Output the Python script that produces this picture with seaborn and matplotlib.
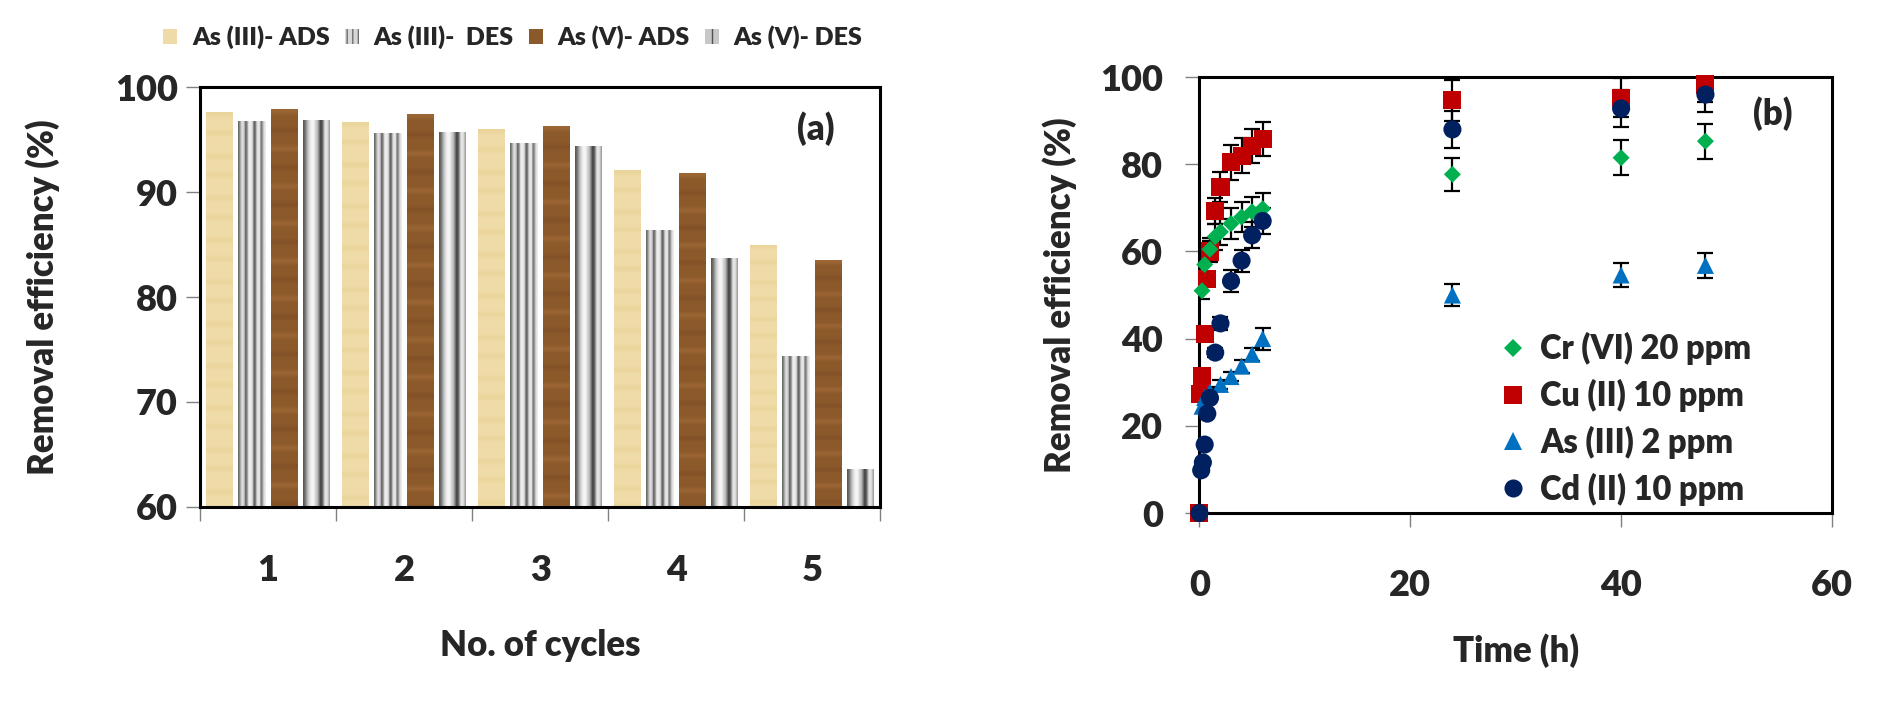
import numpy as np
import pandas as pd
import matplotlib
matplotlib.use("Agg")
import matplotlib.pyplot as plt
import seaborn as sns
from matplotlib.patches import Patch
from matplotlib.lines import Line2D

# ---------------- data: panel (a) ----------------
cycles = ["1", "2", "3", "4", "5"]
series_a = ["As (III)- ADS", "As (III)-  DES", "As (V)- ADS", "As (V)- DES"]
as3_ads = [97.6, 96.7, 96.0, 92.1, 85.0]
as3_des = [96.8, 95.6, 94.7, 86.4, 74.4]
as5_ads = [97.9, 97.4, 96.3, 91.8, 83.5]
as5_des = [96.9, 95.7, 94.4, 83.7, 63.6]

# ---------------- data: panel (b) ----------------
cr_t = [0.25, 0.5, 1, 1.5, 2, 3, 4, 5, 6, 24, 40, 48]
cr_y = [51.0, 57.0, 60.5, 63.4, 64.5, 66.4, 67.9, 69.1, 69.8, 77.7, 81.5, 85.3]
cr_e = [2.0, 2.0, 2.5, 3.0, 3.0, 3.5, 3.5, 3.5, 3.5, 3.8, 4.0, 4.0]

cu_t = [0, 0.08, 0.25, 0.5, 0.75, 1, 1.5, 2, 3, 4, 5, 6, 24, 40, 48]
cu_y = [0.0, 27.4, 31.4, 41.0, 53.7, 60.0, 69.3, 74.8, 80.5, 82.0, 84.2, 85.8, 94.7, 95.3, 98.3]
cu_e = [0, 0, 0, 0, 0, 2.5, 3.0, 3.5, 4.0, 4.0, 4.0, 4.0, 4.7, 4.5, 4.0]

as_t = [0.25, 0.5, 1, 2, 3, 4, 5, 6, 24, 40, 48]
as_y = [24.5, 26.5, 27.8, 29.5, 31.3, 33.7, 36.4, 40.0, 50.0, 54.6, 56.8]
as_e = [0.5, 1.0, 1.0, 1.0, 1.0, 1.5, 1.5, 2.5, 2.6, 2.8, 2.8]

cd_t = [0, 0.17, 0.33, 0.5, 0.75, 1, 1.5, 2, 3, 4, 5, 6, 24, 40, 48]
cd_y = [0.0, 9.8, 11.6, 15.7, 22.8, 26.4, 36.8, 43.5, 53.2, 57.9, 63.7, 67.0, 88.0, 92.8, 96.0]
cd_e = [0, 0, 0, 0, 0, 0, 1.0, 1.5, 2.5, 2.5, 3.0, 3.0, 4.2, 4.3, 4.0]

labels_b = ["Cr (VI) 20 ppm", "Cu (II) 10 ppm", "As (III) 2 ppm", "Cd (II) 10 ppm"]

# ---------------- style ----------------
sns.set_style("white")
plt.rcParams["font.family"] = ["Lato", "DejaVu Sans"]
plt.rcParams["font.weight"] = "heavy"
plt.rcParams["axes.labelweight"] = "heavy"
plt.rcParams["hatch.linewidth"] = 1.0
W = "heavy"

fig = plt.figure(figsize=(18.77, 7.14), dpi=100)
axa = fig.add_axes([0.1066, 0.29, 0.3623, 0.588])
axb = fig.add_axes([0.639, 0.2815, 0.337, 0.6105])

# ---------------- panel (a) ----------------
dfa = pd.DataFrame({
    "cycle": cycles * 4,
    "series": [s for s in series_a for _ in cycles],
    "value": as3_ads + as3_des + as5_ads + as5_des,
})
base_cols = ["#EFDBA8", "#B0B0B0", "#8B5A2B", "#A0A0A0"]
sns.barplot(data=dfa, x="cycle", y="value", hue="series", order=cycles,
            hue_order=series_a, palette=base_cols, width=0.95, saturation=1,
            errorbar=None, legend=False, ax=axa)

bw = 0.2
for cont in axa.containers:
    for p in cont.patches:
        cx = p.get_x() + p.get_width() / 2
        p.set_x(cx - bw / 2)
        p.set_width(bw)
        p.set_edgecolor("none")


def overlay(ax, patch, img):
    x0, y0 = patch.get_x(), patch.get_y()
    w, h = patch.get_width(), patch.get_height()
    im = ax.imshow(img, extent=[x0, x0 + w, y0, y0 + h], aspect="auto",
                   interpolation="bilinear", zorder=patch.get_zorder() + 0.01)
    # clip to the bar while keeping the axes clip box
    im.set_clip_path(patch.get_path(), patch.get_transform())


# texture images (styling only)
p3 = [0.42, 0.6, 0.82, 0.88, 0.75, 0.38, 0.55, 0.86, 0.96, 0.9, 0.8, 0.35,
      0.5, 0.82, 0.92, 0.86, 0.45, 0.6, 0.86, 0.92]
p5 = [0.35, 0.45, 0.6, 0.75, 0.85, 0.93, 0.97, 0.95, 0.88, 0.8, 0.7, 0.5,
      0.3, 0.3, 0.55, 0.85, 0.92, 0.85, 0.7, 0.55]
img3 = np.tile(np.array(p3)[None, :, None], (1, 1, 3))
img5 = np.tile(np.array(p5)[None, :, None], (1, 1, 3))

pap_a = np.array([0.94, 0.86, 0.66])
pap_b = np.array([0.92, 0.835, 0.61])
pap_rows = np.array([pap_b if (i % 9 in (0, 4)) else pap_a for i in range(220)])
img_pap = pap_rows[:, None, :]
wood_a = np.array([0.55, 0.35, 0.17])
wood_b = np.array([0.61, 0.40, 0.20])
wood_c = np.array([0.51, 0.32, 0.15])
wood_rows = np.array([wood_b if i % 8 == 0 else (wood_c if i % 8 == 4 else wood_a)
                      for i in range(220)])
img_wood = wood_rows[:, None, :]

imgs = [img_pap, img3, img_wood, img5]
for cont, im in zip(axa.containers, imgs):
    for p in cont.patches:
        overlay(axa, p, im)

axa.set_xlim(-0.5, 4.5)
axa.set_ylim(60, 100)
axa.set_aspect("auto")
axa.set_yticks([60, 70, 80, 90, 100])
axa.set_xticks(range(5))
axa.set_xticklabels(cycles)
axa.set_xticks(np.arange(-0.5, 5.0, 1.0), minor=True)
axa.tick_params(axis="x", which="major", length=0, pad=34, labelsize=26)
axa.tick_params(axis="x", which="minor", length=10, width=1, color="#808080",
                direction="out", bottom=True)
axa.tick_params(axis="y", length=10, width=1, color="#808080", direction="out",
                left=True, pad=6, labelsize=26)
for s in axa.spines.values():
    s.set_visible(True)
    s.set_color("black")
    s.set_linewidth(2.2)
axa.set_xlabel("No. of cycles", fontsize=25)
axa.set_ylabel("Removal efficiency (%)", fontsize=25)
axa.xaxis.set_label_coords(0.5, -0.29)
axa.yaxis.set_label_coords(-0.206, 0.5)
axa.text(0.905, 0.90, "(a)", transform=axa.transAxes, ha="center",
         va="center", fontsize=25, fontweight=W)

leg_handles = [
    Patch(facecolor="#EFDBA8", edgecolor="none"),
    Patch(facecolor="#D8D8D8", edgecolor="#707070", hatch="|||", linewidth=0),
    Patch(facecolor="#8B5A2B", edgecolor="none"),
    Patch(facecolor="#C8C8C8", edgecolor="#505050", hatch="||", linewidth=0),
]
axa.legend(leg_handles, series_a, ncol=4, loc="center",
           bbox_to_anchor=(0.46, 1.119), frameon=False, fontsize=18,
           handlelength=0.55, handleheight=0.55, handletextpad=0.6,
           columnspacing=0.6, borderaxespad=0, borderpad=0)

# ---------------- panel (b) ----------------
series_b = [
    # (t, y, err, label, marker, color, size)
    (cu_t, cu_y, cu_e, labels_b[1], "s", "#C00000", 170),
    (as_t, as_y, as_e, labels_b[2], "^", "#0070C0", 150),
    (cr_t, cr_y, cr_e, labels_b[0], "D", "#00B050", 75),
    (cd_t, cd_y, cd_e, labels_b[3], "o", "#002060", 170),
]
for t, y, e, lab, mk, col, sz in series_b:
    t_arr, y_arr, e_arr = np.array(t), np.array(y), np.array(e)
    m = e_arr > 0
    axb.errorbar(t_arr[m], y_arr[m], yerr=e_arr[m], fmt="none", ecolor="black",
                 elinewidth=1.6, capsize=6, capthick=1.6, zorder=2)
    dfb = pd.DataFrame({"t": t, "y": y})
    sns.scatterplot(data=dfb, x="t", y="y", marker=mk, color=col, s=sz,
                    edgecolor="none", linewidth=0, ax=axb, zorder=3,
                    clip_on=False)

axb.set_xlim(0, 60)
axb.set_ylim(0, 100)
axb.set_xticks([0, 20, 40, 60])
axb.set_yticks([0, 20, 40, 60, 80, 100])
axb.tick_params(axis="x", length=10, width=1, color="#808080", direction="out",
                bottom=True, pad=30, labelsize=26)
axb.tick_params(axis="y", length=10, width=1, color="#808080", direction="out",
                left=True, pad=16, labelsize=26)
for s in axb.spines.values():
    s.set_visible(True)
    s.set_color("black")
    s.set_linewidth(2.2)
axb.set_xlabel("Time (h)", fontsize=25)
axb.set_ylabel("Removal efficiency (%)", fontsize=25)
axb.xaxis.set_label_coords(0.5, -0.275)
axb.yaxis.set_label_coords(-0.193, 0.5)
axb.text(0.907, 0.917, "(b)", transform=axb.transAxes, ha="center",
         va="center", fontsize=25, fontweight=W)

hb = [
    Line2D([], [], ls="none", marker="D", color="#00B050", markersize=9.5, markeredgewidth=0),
    Line2D([], [], ls="none", marker="s", color="#C00000", markersize=13, markeredgewidth=0),
    Line2D([], [], ls="none", marker="^", color="#0070C0", markersize=13, markeredgewidth=0),
    Line2D([], [], ls="none", marker="o", color="#002060", markersize=13, markeredgewidth=0),
]
axb.legend(hb, labels_b, loc="upper left", bbox_to_anchor=(0.472, 0.415),
           frameon=False, fontsize=23.5, handlelength=0.9, handletextpad=0.4,
           labelspacing=0.42, borderpad=0, borderaxespad=0)

fig.savefig("out.png", dpi=100)
